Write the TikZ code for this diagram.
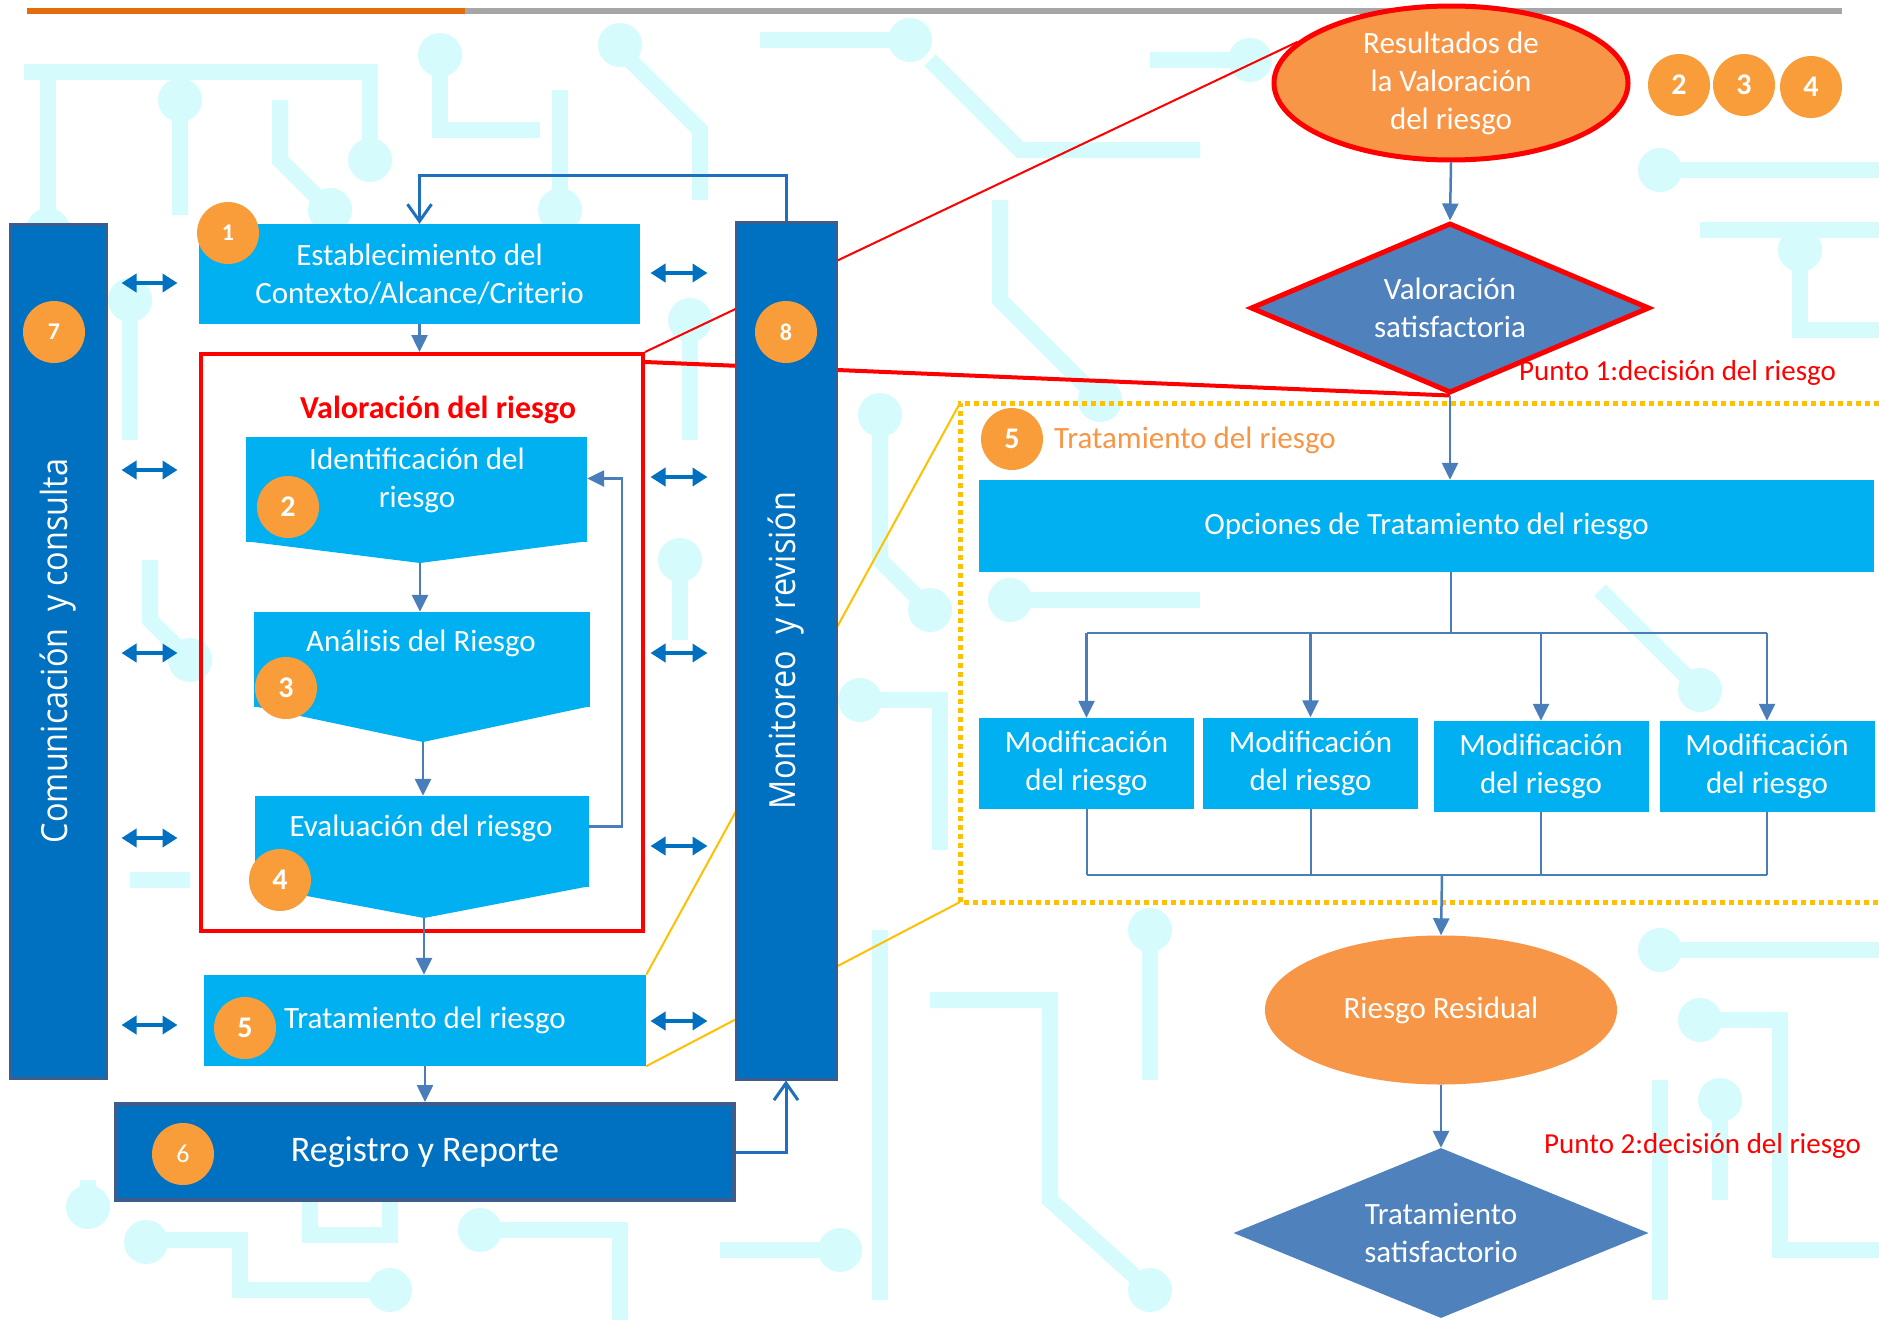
\documentclass[tikz,border=0pt]{standalone}
\usepackage{fontspec}
\setmainfont{Carlito}
\newfontfamily\barfont[FakeStretch=0.9]{Open Sans}
\usetikzlibrary{arrows.meta,shapes.geometric,calc}

\definecolor{skyfill}{HTML}{00B0F0}
\definecolor{navyfill}{HTML}{0070C0}
\definecolor{navyedge}{HTML}{3D5E8C}
\definecolor{orangefill}{HTML}{F79646}
\definecolor{dotorange}{HTML}{F99D3A}
\definecolor{steelfill}{HTML}{4F81BD}
\definecolor{flowline}{HTML}{4A7EBB}
\definecolor{loopline}{HTML}{1F6FBF}
\definecolor{pcbcyan}{HTML}{D6FBFC}
\definecolor{goldline}{HTML}{FFC000}
\definecolor{topbar}{HTML}{E46C0A}
\definecolor{topgray}{HTML}{A6A6A6}

\pgfdeclarelayer{pcb}
\pgfdeclarelayer{behind}
\pgfsetlayers{pcb,behind,main}

\begin{document}
\begin{tikzpicture}[x=1pt, y=-1pt,
    boxtext/.style={text=white, font=\fontsize{31}{38}\selectfont, align=center},
    skybox/.style={rectangle, fill=skyfill, inner sep=0pt, boxtext},
    navybar/.style={rectangle, fill=navyfill, draw=navyedge, line width=3pt, inner sep=0pt},
    bartext/.style={text=white, font=\barfont\fontsize{36}{36}\selectfont, rotate=90},
    numdot/.style={circle, fill=dotorange, text=white, minimum size=62pt, inner sep=0pt, font=\bfseries\fontsize{30}{30}\selectfont},
    smalldot/.style={numdot, font=\bfseries\fontsize{24}{24}\selectfont},
    flow/.style={draw=flowline, line width=2.5pt, -{Triangle[width=16pt,length=17pt]}},
    flowthin/.style={draw=flowline, line width=2pt},
    loopback/.style={draw=loopline, line width=3pt, -{Straight Barb[width=24pt,length=17pt]}},
    twoway/.style={draw=navyfill, line width=4pt, {Triangle[width=18pt,length=15pt]}-{Triangle[width=18pt,length=15pt]}},
    pcbtrace/.style={draw=pcbcyan, line width=16pt},
    rednote/.style={text=red, font=\fontsize{29}{34}\selectfont, anchor=west, inner sep=0pt}
]
    \useasboundingbox (0,0) rectangle (1879,1320);
    % Canvas
    \begin{pgfonlayer}{pcb}
    \fill[white] (0,0) rectangle (1879,1320);
    \draw[pcbtrace] (24,72) -- (370,72) -- (370,150);
    \draw[pcbtrace] (48,72) -- (48,220);
    \draw[pcbtrace] (180,110) -- (180,215);
    \draw[pcbtrace] (280,100) -- (280,160) -- (330,210);
    \draw[pcbtrace] (440,60) -- (440,130) -- (540,130);
    \draw[pcbtrace] (560,90) -- (560,200);
    \draw[pcbtrace] (620,50) -- (700,130) -- (700,200);
    \draw[pcbtrace] (760,40) -- (900,40);
    \draw[pcbtrace] (930,60) -- (1020,150) -- (1200,150);
    \draw[pcbtrace] (1000,200) -- (1000,300) -- (1100,400);
    \draw[pcbtrace] (1150,60) -- (1250,60);
    \draw[pcbtrace] (1660,170) -- (1879,170);
    \draw[pcbtrace] (1700,230) -- (1879,230);
    \draw[pcbtrace] (1800,250) -- (1800,330) -- (1879,330);
    \draw[pcbtrace] (880,420) -- (880,560) -- (930,610);
    \draw[pcbtrace] (860,700) -- (940,700) -- (940,850);
    \draw[pcbtrace] (1010,600) -- (1200,600);
    \draw[pcbtrace] (1600,590) -- (1700,690);
    \draw[pcbtrace] (880,930) -- (880,1300);
    \draw[pcbtrace] (930,1000) -- (1050,1000) -- (1050,1200) -- (1150,1290);
    \draw[pcbtrace] (1660,950) -- (1879,950);
    \draw[pcbtrace] (1700,1020) -- (1780,1020) -- (1780,1250) -- (1879,1250);
    \draw[pcbtrace] (1660,1080) -- (1660,1300);
    \draw[pcbtrace] (1150,930) -- (1150,1080);
    \draw[pcbtrace] (1720,1100) -- (1720,1200);
    \draw[pcbtrace] (88,1180) -- (88,1207);
    \draw[pcbtrace] (146,1240) -- (240,1240) -- (240,1290) -- (390,1290);
    \draw[pcbtrace] (310,1200) -- (310,1235) -- (390,1235) -- (390,1200);
    \draw[pcbtrace] (480,1230) -- (620,1230) -- (620,1320);
    \draw[pcbtrace] (720,1250) -- (840,1250);
    \draw[pcbtrace] (130,300) -- (130,440);
    \draw[pcbtrace] (150,560) -- (150,620) -- (190,660);
    \draw[pcbtrace] (130,880) -- (190,880);
    \draw[pcbtrace] (690,320) -- (690,440);
    \draw[pcbtrace] (680,560) -- (680,640);
    \foreach \px/\py in {370/160, 48/230, 180/100, 330/210, 440/55, 560/210, 620/45, 910/40,
        1100/400, 1250/60, 1660/170, 1800/250, 880/415, 930/610, 860/700, 1010/600, 1700/690,
        1150/1290, 1660/950, 1700/1020, 88/1207, 146/1242, 390/1290, 480/1230, 840/1250,
        130/300, 190/660, 690/320, 680/560, 1150/930, 1720/1100}
        \fill[pcbcyan] (\px,\py) circle (22);
    \end{pgfonlayer}

    % Title rule
    \draw[topbar, line width=6pt] (27,11) -- (465,11);
    \draw[topgray, line width=6pt] (465,11) -- (1842,11);

    % Side bars
    \node[navybar, minimum width=96pt, minimum height=854pt] (comm) at (58,651) {};
    \node[bartext] (commtxt) at (comm.center) {Comunicación\ \ y consulta};
    \node[navybar, minimum width=100pt, minimum height=857pt] (mon) at (786,650.5) {};
    \node[bartext] (montxt) at (mon.center) {Monitoreo\ \ y revisión};

    % Process steps
    \node[skybox, minimum width=441pt, minimum height=100pt] (ctx) at (419.5,274) {Establecimiento del\\Contexto/Alcance/Criterio};
    \node[draw=red, line width=4pt, minimum width=442pt, minimum height=577pt] (valbox) at (422,642.5) {};
    \node[text=red, font=\bfseries\fontsize{32}{36}\selectfont] (valtitle) at (438,410) {Valoración del riesgo};

    \node[skybox, minimum width=341pt, minimum height=105pt] (ident) at (416.5,489.5) {};
    \coordinate (identtip) at (420,563);
    \fill[skyfill] ([yshift=1pt]ident.south west) -- (identtip) -- ([yshift=1pt]ident.south east) -- cycle;
    \node[boxtext] (identtxt) at (417,480) {Identificación del\\riesgo};

    \node[skybox, minimum width=336pt, minimum height=95pt] (anal) at (422,659.5) {};
    \coordinate (analtip) at (423,742);
    \fill[skyfill] ([yshift=1pt]anal.south west) -- (analtip) -- ([yshift=1pt]anal.south east) -- cycle;
    \node[boxtext] (analtxt) at (421,643) {Análisis del Riesgo};

    \node[skybox, minimum width=334pt, minimum height=91pt] (eval) at (422,841.5) {};
    \coordinate (evaltip) at (424,918);
    \fill[skyfill] ([yshift=1pt]eval.south west) -- (evaltip) -- ([yshift=1pt]eval.south east) -- cycle;
    \node[boxtext] (evaltxt) at (421,828) {Evaluación del riesgo};

    \node[skybox, minimum width=442pt, minimum height=91pt] (trat) at (425,1020.5) {Tratamiento del riesgo};
    \node[navybar, line width=4pt, minimum width=618pt, minimum height=96pt, boxtext, font=\fontsize{36}{40}\selectfont] (reg) at (425,1152) {Registro y Reporte};

    % Treatment detail
    \node[ellipse, fill=orangefill, draw=red, line width=5pt, minimum width=354pt, minimum height=154pt, inner sep=0pt, boxtext] (resval) at (1451,83) {Resultados de\\la Valoración\\del riesgo};
    \node[diamond, aspect=2.35, fill=steelfill, draw=red, line width=5pt, minimum width=399pt, minimum height=170pt, inner sep=0pt, boxtext] (valsat) at (1450,308) {Valoración\\satisfactoria};
    \node[rednote] (punto1) at (1519,373) {Punto 1:decisión del riesgo};

    \coordinate (dottl) at (960,403);
    \coordinate (dotbl) at (960,902);
    \draw[goldline, line width=5pt, dash pattern=on 5pt off 4pt] (1879,403) -- (dottl) -- (dotbl) -- (1879,902);
    \node[text=orangefill, font=\fontsize{31}{36}\selectfont, anchor=west, inner sep=0pt] (trattitle) at (1054,440) {Tratamiento del riesgo};

    \node[skybox, minimum width=895pt, minimum height=92pt] (opc) at (1426.5,526) {Opciones de Tratamiento del riesgo};
    \foreach \name/\x/\y in {moda/1086.5/763.5, modb/1310.5/763, modc/1541/766.5, modd/1767/766.5}
        \node[skybox, minimum width=215pt, minimum height=91pt] (\name) at (\x,\y) {Modificación\\del riesgo};

    \node[ellipse, fill=orangefill, minimum width=352pt, minimum height=149pt, inner sep=0pt, boxtext] (resid) at (1441,1010) {Riesgo Residual};
    \node[diamond, aspect=2.44, fill=steelfill, minimum width=415pt, minimum height=170pt, inner sep=0pt, boxtext] (tratsat) at (1441,1233) {Tratamiento\\satisfactorio};
    \node[rednote] (punto2) at (1544,1146) {Punto 2:decisión del riesgo};

    % Zoom lines
    \begin{pgfonlayer}{behind}
    \draw[red, line width=2pt] (valbox.north east) -- (resval.165);
    \draw[red, line width=4pt] ([yshift=-10pt]valbox.north east) -- (valsat.south);
    \draw[goldline, line width=2pt] (trat.north east) -- (dottl);
    \draw[goldline, line width=2pt] (trat.south east) -- (dotbl);
    \end{pgfonlayer}

    % Arrows
    \draw[flow] (ctx.south) -- (ctx.south |- valbox.north);
    \draw[flow] (identtip) -- (identtip |- anal.north);
    \draw[flow] (analtip) -- (analtip |- eval.north);
    \draw[flow] (evaltip) -- (evaltip |- trat.north);
    \draw[flow] (trat.south) -- (reg.north);
    \draw[flow] ([yshift=15pt]eval.east) -- ++(33,0) |- ([yshift=11pt]ident.east);
    \draw[loopback] (mon.north) -- ++(0,-45) -| (ctx.north);
    \draw[loopback] (reg.east) -| (mon.south);
    \foreach \y in {283,470,653,838,1025}
        \draw[twoway] ($(comm.east |- 0,\y)+(14,0)$) -- ($(comm.east |- 0,\y)+(70,0)$);
    \foreach \y in {273,477,653,846,1021}
        \draw[twoway] ($(mon.west |- 0,\y)+(-84,0)$) -- ($(mon.west |- 0,\y)+(-27,0)$);

    \draw[flow] (resval.south) -- (valsat.north);
    \draw[flow] (valsat.south) -- (valsat.south |- opc.north);
    \coordinate (split) at (1451,633);
    \draw[flowthin] (opc.south -| split) -- (split);
    \draw[flowthin] (split -| moda.north) -- (split -| modd.north);
    \foreach \name in {moda,modb,modc,modd}
        \draw[flow] (split -| \name.north) -- (\name.north);
    \coordinate (merge) at (1442,875);
    \foreach \name in {moda,modb,modc,modd}
        \draw[flowthin] (\name.south) -- (merge -| \name.south);
    \draw[flowthin] (merge -| moda.south) -- (merge -| modd.south);
    \draw[flow] (merge) -- (resid.north);
    \draw[flow] (resid.south) -- (tratsat.north);

    % Step numbers
    \node[smalldot] (n1) at (228,233) {1};
    \node[numdot] (n2) at (288,507) {2};
    \node[numdot] (n3) at (286,688) {3};
    \node[numdot] (n4) at (280,880) {4};
    \node[numdot] (n5) at (245,1028) {5};
    \node[numdot, font=\fontsize{26}{26}\selectfont] (n6) at (183,1154) {6};
    \node[smalldot] (n7) at (54,332) {7};
    \node[smalldot] (n8) at (786,332) {8};
    \node[numdot] (m5) at (1012,439) {5};
    \node[numdot] (r2) at (1679,85) {2};
    \node[numdot] (r3) at (1744,85) {3};
    \node[numdot] (r4) at (1811,87) {4};
\end{tikzpicture}
\end{document}
